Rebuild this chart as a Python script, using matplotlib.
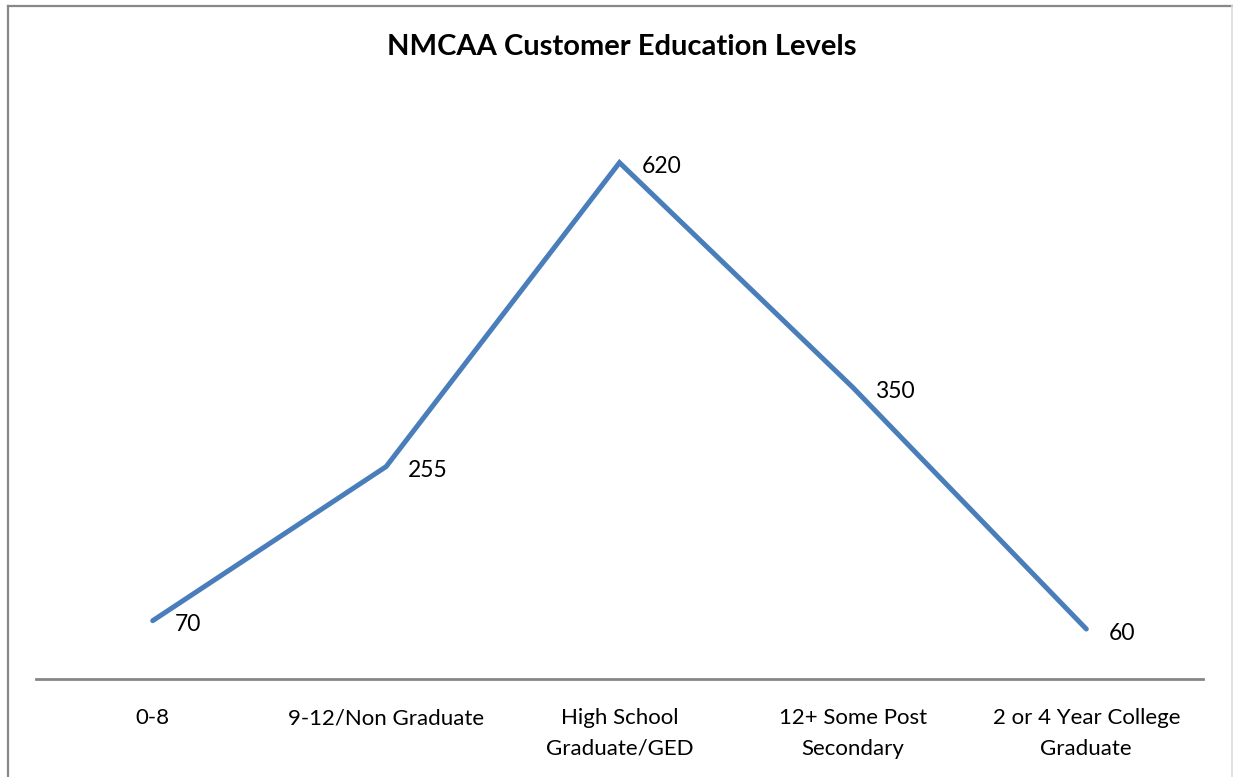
import matplotlib.pyplot as plt
from matplotlib.lines import Line2D

# data
categories = ["0-8", "9-12/Non Graduate", "High School\nGraduate/GED",
              "12+ Some Post\nSecondary", "2 or 4 Year College\nGraduate"]
customers = [70, 255, 620, 350, 60]
title = "NMCAA Customer Education Levels"

plt.rcParams['font.family'] = ['Lato', 'DejaVu Sans']

W, H = 1233, 777
fig = plt.figure(figsize=(W / 100, H / 100), dpi=100)

# chart frame (top/left darker, right light)
fig.add_artist(Line2D([8 / W, 8 / W], [0, 1 - 6 / H], color='#888888', lw=1.6))
fig.add_artist(Line2D([8 / W, 1], [1 - 6 / H, 1 - 6 / H], color='#888888', lw=1.6))
fig.add_artist(Line2D([1231.5 / W, 1231.5 / W], [0, 1 - 6 / H], color='#dddddd', lw=1.2))

ax = fig.add_axes([36 / W, (H - 679) / H, (1203 - 36) / W, (679 - 96) / H])
x = list(range(len(categories)))
ax.plot(x, customers, color='#4A7EBB', lw=3.6, solid_capstyle='round',
        solid_joinstyle='miter')

for xi, v in zip(x, customers):
    ax.annotate(str(v), (xi, v), xytext=(16, -3), textcoords='offset points',
                ha='left', va='center', fontsize=16.5, color='black')

ax.set_xlim(-0.5, len(categories) - 0.5)
ax.set_ylim(0, 700)
ax.set_yticks([])
ax.set_xticks(x)
ax.set_xticklabels(categories, fontsize=16, linespacing=1.65, va='top')
ax.tick_params(axis='x', length=0, pad=21)
for s in ['top', 'right', 'left']:
    ax.spines[s].set_visible(False)
ax.spines['bottom'].set_color('#868686')
ax.spines['bottom'].set_linewidth(2)

fig.text(622 / W, 1 - 47 / H, title, ha='center', va='center',
         fontsize=21, fontweight='bold')

fig.savefig('out.png', dpi=100)
